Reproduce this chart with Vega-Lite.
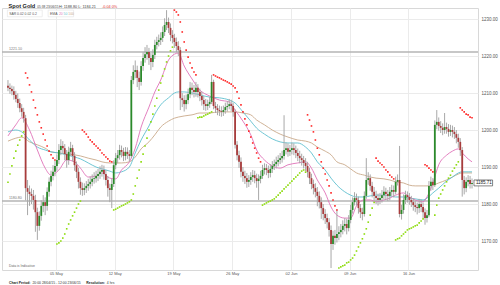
{
"$schema":"https://vega.github.io/schema/vega-lite/v6.json",
"width":476,"height":262,
"autosize":{"type":"none"},
"padding":{"left":2,"top":8,"right":22,"bottom":15},
"background":"white",
"config":{"view":{"stroke":"#d8d8d8"},"font":"Liberation Sans"},
"datasets":{
"k":[
{"i":0,"o":1212.0,"h":1213.5,"l":1210.5,"c":1211.4},
{"i":1,"o":1211.4,"h":1212.6,"l":1209.8,"c":1211.1},
{"i":2,"o":1211.1,"h":1212.0,"l":1209.4,"c":1210.5},
{"i":3,"o":1210.5,"h":1211.8,"l":1208.2,"c":1209.5},
{"i":4,"o":1209.5,"h":1210.6,"l":1207.5,"c":1208.4},
{"i":5,"o":1208.4,"h":1209.9,"l":1206.0,"c":1207.3},
{"i":6,"o":1207.3,"h":1208.5,"l":1204.8,"c":1205.9},
{"i":7,"o":1205.9,"h":1207.0,"l":1203.6,"c":1204.9},
{"i":8,"o":1204.9,"h":1206.0,"l":1202.0,"c":1203.2},
{"i":9,"o":1203.2,"h":1204.1,"l":1181.0,"c":1184.3},
{"i":10,"o":1184.3,"h":1186.5,"l":1177.0,"c":1183.3},
{"i":11,"o":1183.3,"h":1185.0,"l":1179.5,"c":1182.7},
{"i":12,"o":1182.7,"h":1184.2,"l":1180.0,"c":1182.2},
{"i":13,"o":1182.2,"h":1183.8,"l":1178.5,"c":1181.1},
{"i":14,"o":1181.1,"h":1182.5,"l":1172.5,"c":1177.8},
{"i":15,"o":1177.8,"h":1179.0,"l":1170.3,"c":1174.1},
{"i":16,"o":1174.1,"h":1178.0,"l":1172.8,"c":1176.8},
{"i":17,"o":1176.8,"h":1181.0,"l":1175.5,"c":1179.5},
{"i":18,"o":1179.5,"h":1182.4,"l":1177.8,"c":1180.5},
{"i":19,"o":1180.5,"h":1181.8,"l":1177.0,"c":1179.5},
{"i":20,"o":1179.5,"h":1184.5,"l":1178.2,"c":1183.3},
{"i":21,"o":1183.3,"h":1187.2,"l":1182.0,"c":1186.0},
{"i":22,"o":1186.0,"h":1189.0,"l":1184.8,"c":1187.6},
{"i":23,"o":1187.6,"h":1190.5,"l":1186.4,"c":1188.7},
{"i":24,"o":1188.7,"h":1191.8,"l":1187.5,"c":1190.3},
{"i":25,"o":1190.3,"h":1193.4,"l":1189.0,"c":1191.9},
{"i":26,"o":1191.9,"h":1196.2,"l":1190.8,"c":1194.6},
{"i":27,"o":1194.6,"h":1197.5,"l":1193.2,"c":1195.7},
{"i":28,"o":1195.7,"h":1197.0,"l":1193.6,"c":1195.1},
{"i":29,"o":1195.1,"h":1196.2,"l":1191.8,"c":1193.5},
{"i":30,"o":1193.5,"h":1194.6,"l":1189.8,"c":1191.9},
{"i":31,"o":1191.9,"h":1195.5,"l":1190.6,"c":1194.1},
{"i":32,"o":1194.1,"h":1196.8,"l":1193.0,"c":1195.1},
{"i":33,"o":1195.1,"h":1196.0,"l":1191.5,"c":1193.0},
{"i":34,"o":1193.0,"h":1194.0,"l":1189.0,"c":1190.5},
{"i":35,"o":1190.5,"h":1191.5,"l":1187.0,"c":1188.7},
{"i":36,"o":1188.7,"h":1189.8,"l":1184.2,"c":1186.0},
{"i":37,"o":1186.0,"h":1187.2,"l":1182.5,"c":1184.3},
{"i":38,"o":1184.3,"h":1185.8,"l":1182.2,"c":1183.8},
{"i":39,"o":1183.8,"h":1185.6,"l":1182.4,"c":1184.3},
{"i":40,"o":1184.3,"h":1186.2,"l":1183.0,"c":1184.9},
{"i":41,"o":1184.9,"h":1186.8,"l":1183.6,"c":1185.4},
{"i":42,"o":1185.4,"h":1187.4,"l":1184.2,"c":1186.0},
{"i":43,"o":1186.0,"h":1188.0,"l":1184.8,"c":1186.8},
{"i":44,"o":1186.8,"h":1188.6,"l":1185.5,"c":1187.0},
{"i":45,"o":1187.0,"h":1189.0,"l":1185.8,"c":1187.6},
{"i":46,"o":1187.6,"h":1189.5,"l":1186.2,"c":1188.1},
{"i":47,"o":1188.1,"h":1190.2,"l":1186.8,"c":1188.7},
{"i":48,"o":1188.7,"h":1190.6,"l":1187.4,"c":1189.2},
{"i":49,"o":1189.2,"h":1190.4,"l":1186.6,"c":1188.1},
{"i":50,"o":1188.1,"h":1189.2,"l":1185.0,"c":1186.5},
{"i":51,"o":1186.5,"h":1187.6,"l":1182.0,"c":1184.3},
{"i":52,"o":1184.3,"h":1185.5,"l":1180.5,"c":1183.8},
{"i":53,"o":1183.8,"h":1186.8,"l":1178.9,"c":1185.4},
{"i":54,"o":1185.4,"h":1191.8,"l":1184.6,"c":1190.5},
{"i":55,"o":1190.5,"h":1193.8,"l":1189.4,"c":1192.4},
{"i":56,"o":1192.4,"h":1194.6,"l":1191.0,"c":1193.2},
{"i":57,"o":1193.2,"h":1196.0,"l":1192.0,"c":1194.6},
{"i":58,"o":1194.6,"h":1195.8,"l":1192.6,"c":1194.1},
{"i":59,"o":1194.1,"h":1195.2,"l":1191.6,"c":1193.0},
{"i":60,"o":1193.0,"h":1195.4,"l":1191.8,"c":1194.1},
{"i":61,"o":1194.1,"h":1195.3,"l":1192.2,"c":1193.5},
{"i":62,"o":1193.5,"h":1194.6,"l":1191.5,"c":1193.0},
{"i":63,"o":1193.0,"h":1214.6,"l":1192.4,"c":1213.5},
{"i":64,"o":1213.5,"h":1217.5,"l":1212.4,"c":1215.7},
{"i":65,"o":1215.7,"h":1218.8,"l":1214.0,"c":1216.2},
{"i":66,"o":1216.2,"h":1217.4,"l":1211.6,"c":1214.1},
{"i":67,"o":1214.1,"h":1215.8,"l":1210.8,"c":1213.0},
{"i":68,"o":1213.0,"h":1218.6,"l":1212.0,"c":1217.3},
{"i":69,"o":1217.3,"h":1221.0,"l":1216.0,"c":1219.5},
{"i":70,"o":1219.5,"h":1222.4,"l":1218.2,"c":1220.5},
{"i":71,"o":1220.5,"h":1223.0,"l":1219.0,"c":1221.1},
{"i":72,"o":1221.1,"h":1222.2,"l":1217.6,"c":1219.5},
{"i":73,"o":1219.5,"h":1220.8,"l":1216.2,"c":1218.4},
{"i":74,"o":1218.4,"h":1221.8,"l":1217.0,"c":1220.3},
{"i":75,"o":1220.3,"h":1224.4,"l":1219.2,"c":1223.0},
{"i":76,"o":1223.0,"h":1225.2,"l":1221.8,"c":1223.8},
{"i":77,"o":1223.8,"h":1225.8,"l":1222.6,"c":1224.3},
{"i":78,"o":1224.3,"h":1226.4,"l":1223.0,"c":1224.9},
{"i":79,"o":1224.9,"h":1228.0,"l":1223.8,"c":1226.5},
{"i":80,"o":1226.5,"h":1230.2,"l":1225.4,"c":1228.4},
{"i":81,"o":1228.4,"h":1232.4,"l":1227.0,"c":1229.2},
{"i":82,"o":1229.2,"h":1230.4,"l":1226.2,"c":1227.6},
{"i":83,"o":1227.6,"h":1228.8,"l":1224.0,"c":1225.7},
{"i":84,"o":1225.7,"h":1227.0,"l":1223.4,"c":1224.9},
{"i":85,"o":1224.9,"h":1226.0,"l":1222.2,"c":1223.8},
{"i":86,"o":1223.8,"h":1225.0,"l":1221.0,"c":1222.7},
{"i":87,"o":1222.7,"h":1224.0,"l":1220.0,"c":1221.6},
{"i":88,"o":1221.6,"h":1222.4,"l":1205.4,"c":1208.6},
{"i":89,"o":1208.6,"h":1210.0,"l":1206.2,"c":1208.1},
{"i":90,"o":1208.1,"h":1209.4,"l":1205.0,"c":1207.0},
{"i":91,"o":1207.0,"h":1209.6,"l":1205.6,"c":1208.1},
{"i":92,"o":1208.1,"h":1211.2,"l":1207.0,"c":1209.7},
{"i":93,"o":1209.7,"h":1213.0,"l":1208.6,"c":1211.4},
{"i":94,"o":1211.4,"h":1212.8,"l":1209.4,"c":1210.8},
{"i":95,"o":1210.8,"h":1212.2,"l":1208.8,"c":1210.3},
{"i":96,"o":1210.3,"h":1213.0,"l":1209.0,"c":1211.4},
{"i":97,"o":1211.4,"h":1212.4,"l":1208.8,"c":1210.3},
{"i":98,"o":1210.3,"h":1211.2,"l":1207.8,"c":1209.2},
{"i":99,"o":1209.2,"h":1210.4,"l":1206.6,"c":1208.1},
{"i":100,"o":1208.1,"h":1209.2,"l":1205.4,"c":1207.0},
{"i":101,"o":1207.0,"h":1208.4,"l":1205.2,"c":1206.5},
{"i":102,"o":1206.5,"h":1208.2,"l":1205.4,"c":1207.0},
{"i":103,"o":1207.0,"h":1209.0,"l":1206.0,"c":1207.6},
{"i":104,"o":1207.6,"h":1214.9,"l":1207.0,"c":1213.0},
{"i":105,"o":1213.0,"h":1213.6,"l":1205.6,"c":1206.5},
{"i":106,"o":1206.5,"h":1207.6,"l":1204.6,"c":1205.9},
{"i":107,"o":1205.9,"h":1207.0,"l":1204.0,"c":1205.4},
{"i":108,"o":1205.4,"h":1206.6,"l":1203.8,"c":1205.1},
{"i":109,"o":1205.1,"h":1206.4,"l":1203.6,"c":1204.9},
{"i":110,"o":1204.9,"h":1206.6,"l":1203.8,"c":1205.4},
{"i":111,"o":1205.4,"h":1207.4,"l":1204.4,"c":1206.2},
{"i":112,"o":1206.2,"h":1207.8,"l":1205.0,"c":1206.5},
{"i":113,"o":1206.5,"h":1208.4,"l":1205.6,"c":1207.0},
{"i":114,"o":1207.0,"h":1208.2,"l":1205.2,"c":1206.5},
{"i":115,"o":1206.5,"h":1207.4,"l":1203.6,"c":1204.9},
{"i":116,"o":1204.9,"h":1205.6,"l":1195.0,"c":1196.0},
{"i":117,"o":1196.0,"h":1197.0,"l":1191.8,"c":1193.2},
{"i":118,"o":1193.2,"h":1194.4,"l":1189.8,"c":1191.4},
{"i":119,"o":1191.4,"h":1192.6,"l":1187.2,"c":1188.7},
{"i":120,"o":1188.7,"h":1190.0,"l":1186.0,"c":1187.6},
{"i":121,"o":1187.6,"h":1189.0,"l":1185.4,"c":1187.0},
{"i":122,"o":1187.0,"h":1188.4,"l":1184.4,"c":1186.0},
{"i":123,"o":1186.0,"h":1187.8,"l":1184.6,"c":1186.5},
{"i":124,"o":1186.5,"h":1188.6,"l":1185.2,"c":1187.3},
{"i":125,"o":1187.3,"h":1189.2,"l":1186.0,"c":1187.8},
{"i":126,"o":1187.8,"h":1189.0,"l":1185.6,"c":1187.0},
{"i":127,"o":1187.0,"h":1188.2,"l":1184.4,"c":1186.2},
{"i":128,"o":1186.2,"h":1188.0,"l":1181.1,"c":1186.8},
{"i":129,"o":1186.8,"h":1189.0,"l":1185.6,"c":1187.6},
{"i":130,"o":1187.6,"h":1190.6,"l":1186.8,"c":1189.2},
{"i":131,"o":1189.2,"h":1191.0,"l":1188.0,"c":1189.7},
{"i":132,"o":1189.7,"h":1190.8,"l":1187.8,"c":1189.2},
{"i":133,"o":1189.2,"h":1190.4,"l":1187.0,"c":1188.4},
{"i":134,"o":1188.4,"h":1190.8,"l":1187.2,"c":1189.5},
{"i":135,"o":1189.5,"h":1191.6,"l":1188.4,"c":1190.3},
{"i":136,"o":1190.3,"h":1192.0,"l":1189.2,"c":1190.8},
{"i":137,"o":1190.8,"h":1192.8,"l":1189.6,"c":1191.4},
{"i":138,"o":1191.4,"h":1193.2,"l":1190.2,"c":1191.9},
{"i":139,"o":1191.9,"h":1193.8,"l":1190.8,"c":1192.4},
{"i":140,"o":1192.4,"h":1194.4,"l":1191.2,"c":1193.0},
{"i":141,"o":1193.0,"h":1204.0,"l":1192.0,"c":1194.6},
{"i":142,"o":1194.6,"h":1196.6,"l":1193.4,"c":1195.1},
{"i":143,"o":1195.1,"h":1196.4,"l":1192.8,"c":1194.1},
{"i":144,"o":1194.1,"h":1196.0,"l":1193.0,"c":1194.6},
{"i":145,"o":1194.6,"h":1196.6,"l":1193.4,"c":1195.1},
{"i":146,"o":1195.1,"h":1196.4,"l":1193.2,"c":1194.6},
{"i":147,"o":1194.6,"h":1195.8,"l":1192.4,"c":1193.8},
{"i":148,"o":1193.8,"h":1195.0,"l":1191.6,"c":1193.0},
{"i":149,"o":1193.0,"h":1194.4,"l":1191.0,"c":1192.4},
{"i":150,"o":1192.4,"h":1193.6,"l":1190.4,"c":1191.9},
{"i":151,"o":1191.9,"h":1193.0,"l":1189.6,"c":1191.1},
{"i":152,"o":1191.1,"h":1192.4,"l":1188.8,"c":1190.3},
{"i":153,"o":1190.3,"h":1191.4,"l":1187.2,"c":1188.7},
{"i":154,"o":1188.7,"h":1189.8,"l":1185.4,"c":1187.0},
{"i":155,"o":1187.0,"h":1188.2,"l":1184.0,"c":1185.4},
{"i":156,"o":1185.4,"h":1186.6,"l":1182.6,"c":1184.3},
{"i":157,"o":1184.3,"h":1185.6,"l":1181.8,"c":1183.3},
{"i":158,"o":1183.3,"h":1184.6,"l":1179.4,"c":1182.2},
{"i":159,"o":1182.2,"h":1183.4,"l":1178.8,"c":1180.5},
{"i":160,"o":1180.5,"h":1181.8,"l":1176.0,"c":1178.9},
{"i":161,"o":1178.9,"h":1180.0,"l":1175.6,"c":1177.3},
{"i":162,"o":1177.3,"h":1178.6,"l":1174.6,"c":1176.2},
{"i":163,"o":1176.2,"h":1177.4,"l":1173.4,"c":1175.1},
{"i":164,"o":1175.1,"h":1176.2,"l":1171.2,"c":1173.0},
{"i":165,"o":1173.0,"h":1174.2,"l":1162.7,"c":1169.2},
{"i":166,"o":1169.2,"h":1172.8,"l":1167.6,"c":1171.4},
{"i":167,"o":1171.4,"h":1173.0,"l":1169.0,"c":1170.8},
{"i":168,"o":1170.8,"h":1178.6,"l":1169.6,"c":1171.9},
{"i":169,"o":1171.9,"h":1174.0,"l":1170.2,"c":1172.4},
{"i":170,"o":1172.4,"h":1174.6,"l":1171.0,"c":1173.0},
{"i":171,"o":1173.0,"h":1175.6,"l":1171.8,"c":1174.1},
{"i":172,"o":1174.1,"h":1176.2,"l":1172.6,"c":1174.6},
{"i":173,"o":1174.6,"h":1176.0,"l":1171.8,"c":1173.5},
{"i":174,"o":1173.5,"h":1177.0,"l":1172.6,"c":1175.7},
{"i":175,"o":1175.7,"h":1179.8,"l":1174.8,"c":1178.4},
{"i":176,"o":1178.4,"h":1181.8,"l":1177.4,"c":1180.5},
{"i":177,"o":1180.5,"h":1183.2,"l":1179.6,"c":1181.6},
{"i":178,"o":1181.6,"h":1182.8,"l":1179.6,"c":1181.1},
{"i":179,"o":1181.1,"h":1182.0,"l":1177.4,"c":1178.9},
{"i":180,"o":1178.9,"h":1180.0,"l":1176.2,"c":1177.8},
{"i":181,"o":1177.8,"h":1179.0,"l":1175.6,"c":1177.3},
{"i":182,"o":1177.3,"h":1183.4,"l":1176.6,"c":1182.2},
{"i":183,"o":1182.2,"h":1192.4,"l":1181.4,"c":1186.5},
{"i":184,"o":1186.5,"h":1188.6,"l":1185.2,"c":1187.0},
{"i":185,"o":1187.0,"h":1188.0,"l":1183.6,"c":1184.9},
{"i":186,"o":1184.9,"h":1186.0,"l":1181.8,"c":1183.3},
{"i":187,"o":1183.3,"h":1184.6,"l":1180.6,"c":1182.2},
{"i":188,"o":1182.2,"h":1183.6,"l":1180.0,"c":1181.6},
{"i":189,"o":1181.6,"h":1182.8,"l":1179.6,"c":1181.1},
{"i":190,"o":1181.1,"h":1183.0,"l":1180.0,"c":1181.6},
{"i":191,"o":1181.6,"h":1183.8,"l":1180.4,"c":1182.4},
{"i":192,"o":1182.4,"h":1184.8,"l":1181.2,"c":1183.3},
{"i":193,"o":1183.3,"h":1184.4,"l":1181.2,"c":1182.7},
{"i":194,"o":1182.7,"h":1183.8,"l":1180.8,"c":1182.2},
{"i":195,"o":1182.2,"h":1184.6,"l":1181.0,"c":1183.3},
{"i":196,"o":1183.3,"h":1185.2,"l":1182.2,"c":1183.8},
{"i":197,"o":1183.8,"h":1185.0,"l":1181.8,"c":1183.3},
{"i":198,"o":1183.3,"h":1187.4,"l":1182.6,"c":1186.0},
{"i":199,"o":1186.0,"h":1188.0,"l":1185.0,"c":1186.5},
{"i":200,"o":1186.5,"h":1195.7,"l":1176.4,"c":1177.3},
{"i":201,"o":1177.3,"h":1179.8,"l":1175.8,"c":1178.4},
{"i":202,"o":1178.4,"h":1182.6,"l":1177.4,"c":1181.1},
{"i":203,"o":1181.1,"h":1183.6,"l":1180.0,"c":1182.4},
{"i":204,"o":1182.4,"h":1183.4,"l":1180.4,"c":1181.9},
{"i":205,"o":1181.9,"h":1183.0,"l":1179.8,"c":1181.1},
{"i":206,"o":1181.1,"h":1182.2,"l":1179.2,"c":1180.5},
{"i":207,"o":1180.5,"h":1181.6,"l":1178.2,"c":1179.7},
{"i":208,"o":1179.7,"h":1181.0,"l":1177.8,"c":1179.2},
{"i":209,"o":1179.2,"h":1180.4,"l":1177.2,"c":1178.9},
{"i":210,"o":1178.9,"h":1181.4,"l":1177.6,"c":1180.0},
{"i":211,"o":1180.0,"h":1181.2,"l":1177.8,"c":1179.2},
{"i":212,"o":1179.2,"h":1180.4,"l":1176.2,"c":1177.8},
{"i":213,"o":1177.8,"h":1178.8,"l":1174.4,"c":1176.2},
{"i":214,"o":1176.2,"h":1178.4,"l":1175.0,"c":1177.0},
{"i":215,"o":1177.0,"h":1186.2,"l":1176.4,"c":1184.9},
{"i":216,"o":1184.9,"h":1187.4,"l":1183.6,"c":1186.0},
{"i":217,"o":1186.0,"h":1187.0,"l":1183.8,"c":1185.1},
{"i":218,"o":1185.1,"h":1202.6,"l":1184.6,"c":1201.4},
{"i":219,"o":1201.4,"h":1205.4,"l":1200.2,"c":1202.2},
{"i":220,"o":1202.2,"h":1203.4,"l":1199.8,"c":1201.1},
{"i":221,"o":1201.1,"h":1202.4,"l":1199.2,"c":1200.6},
{"i":222,"o":1200.6,"h":1201.8,"l":1198.6,"c":1200.0},
{"i":223,"o":1200.0,"h":1204.6,"l":1199.0,"c":1200.8},
{"i":224,"o":1200.8,"h":1202.0,"l":1199.0,"c":1200.3},
{"i":225,"o":1200.3,"h":1201.6,"l":1198.2,"c":1199.5},
{"i":226,"o":1199.5,"h":1201.4,"l":1198.4,"c":1200.0},
{"i":227,"o":1200.0,"h":1201.2,"l":1198.0,"c":1199.5},
{"i":228,"o":1199.5,"h":1200.8,"l":1197.6,"c":1198.9},
{"i":229,"o":1198.9,"h":1200.0,"l":1196.4,"c":1197.9},
{"i":230,"o":1197.9,"h":1199.0,"l":1195.2,"c":1196.8},
{"i":231,"o":1196.8,"h":1197.8,"l":1193.0,"c":1194.6},
{"i":232,"o":1194.6,"h":1195.4,"l":1182.0,"c":1186.5},
{"i":233,"o":1186.5,"h":1187.6,"l":1182.6,"c":1184.3},
{"i":234,"o":1184.3,"h":1187.2,"l":1183.2,"c":1186.0},
{"i":235,"o":1186.0,"h":1187.8,"l":1184.8,"c":1186.5},
{"i":236,"o":1186.5,"h":1187.6,"l":1184.2,"c":1185.4},
{"i":237,"o":1185.4,"h":1186.9,"l":1184.2,"c":1185.7}
],
"s":[
{"i":0,"v":1185.9,"s":"b"},{"i":1,"v":1188.1,"s":"b"},{"i":2,"v":1190.3,"s":"b"},{"i":3,"v":1192.4,"s":"b"},{"i":4,"v":1194.3,"s":"b"},{"i":5,"v":1195.9,"s":"b"},{"i":6,"v":1197.3,"s":"b"},{"i":7,"v":1198.4,"s":"b"},{"i":8,"v":1199.5,"s":"b"},
{"i":9,"v":1215.4,"s":"a"},{"i":10,"v":1214.1,"s":"a"},{"i":11,"v":1212.2,"s":"a"},{"i":12,"v":1210.3,"s":"a"},{"i":13,"v":1208.1,"s":"a"},{"i":14,"v":1206.0,"s":"a"},{"i":15,"v":1204.1,"s":"a"},{"i":16,"v":1202.2,"s":"a"},{"i":17,"v":1200.6,"s":"a"},{"i":18,"v":1198.9,"s":"a"},{"i":19,"v":1197.3,"s":"a"},{"i":20,"v":1195.7,"s":"a"},{"i":21,"v":1194.3,"s":"a"},{"i":22,"v":1193.3,"s":"a"},{"i":23,"v":1192.4,"s":"a"},{"i":24,"v":1191.9,"s":"a"},
{"i":25,"v":1169.2,"s":"b"},{"i":26,"v":1169.5,"s":"b"},{"i":27,"v":1170.0,"s":"b"},{"i":28,"v":1170.8,"s":"b"},{"i":29,"v":1171.9,"s":"b"},{"i":30,"v":1173.3,"s":"b"},{"i":31,"v":1174.6,"s":"b"},{"i":32,"v":1175.7,"s":"b"},{"i":33,"v":1176.8,"s":"b"},{"i":34,"v":1177.8,"s":"b"},{"i":35,"v":1178.9,"s":"b"},{"i":36,"v":1180.0,"s":"b"},{"i":37,"v":1180.8,"s":"b"},
{"i":38,"v":1200.0,"s":"a"},{"i":39,"v":1199.5,"s":"a"},{"i":40,"v":1198.9,"s":"a"},{"i":41,"v":1198.1,"s":"a"},{"i":42,"v":1197.3,"s":"a"},{"i":43,"v":1196.8,"s":"a"},{"i":44,"v":1196.2,"s":"a"},{"i":45,"v":1195.7,"s":"a"},{"i":46,"v":1195.1,"s":"a"},{"i":47,"v":1194.6,"s":"a"},{"i":48,"v":1193.8,"s":"a"},{"i":49,"v":1193.3,"s":"a"},{"i":50,"v":1192.7,"s":"a"},{"i":51,"v":1192.2,"s":"a"},{"i":52,"v":1191.6,"s":"a"},{"i":53,"v":1191.4,"s":"a"},
{"i":54,"v":1178.4,"s":"b"},{"i":55,"v":1178.6,"s":"b"},{"i":56,"v":1178.9,"s":"b"},{"i":57,"v":1179.2,"s":"b"},{"i":58,"v":1179.5,"s":"b"},{"i":59,"v":1179.7,"s":"b"},{"i":60,"v":1180.0,"s":"b"},{"i":61,"v":1180.3,"s":"b"},{"i":62,"v":1180.6,"s":"b"},{"i":63,"v":1181.1,"s":"b"},{"i":64,"v":1182.7,"s":"b"},{"i":65,"v":1184.9,"s":"b"},{"i":66,"v":1187.0,"s":"b"},{"i":67,"v":1189.2,"s":"b"},{"i":68,"v":1191.4,"s":"b"},{"i":69,"v":1193.5,"s":"b"},{"i":70,"v":1195.7,"s":"b"},{"i":71,"v":1197.8,"s":"b"},{"i":72,"v":1200.0,"s":"b"},{"i":73,"v":1202.2,"s":"b"},{"i":74,"v":1204.3,"s":"b"},{"i":75,"v":1206.5,"s":"b"},{"i":76,"v":1208.6,"s":"b"},{"i":77,"v":1210.8,"s":"b"},{"i":78,"v":1212.7,"s":"b"},{"i":79,"v":1214.6,"s":"b"},{"i":80,"v":1216.5,"s":"b"},{"i":81,"v":1218.4,"s":"b"},{"i":82,"v":1220.0,"s":"b"},{"i":83,"v":1221.4,"s":"b"},{"i":84,"v":1222.4,"s":"b"},
{"i":85,"v":1232.4,"s":"a"},{"i":86,"v":1231.9,"s":"a"},{"i":87,"v":1231.1,"s":"a"},{"i":88,"v":1229.2,"s":"a"},{"i":89,"v":1226.5,"s":"a"},{"i":90,"v":1223.8,"s":"a"},{"i":91,"v":1221.6,"s":"a"},{"i":92,"v":1219.7,"s":"a"},{"i":93,"v":1218.1,"s":"a"},{"i":94,"v":1216.8,"s":"a"},{"i":95,"v":1215.7,"s":"a"},{"i":96,"v":1214.9,"s":"a"},
{"i":97,"v":1203.3,"s":"b"},{"i":98,"v":1203.5,"s":"b"},{"i":99,"v":1203.5,"s":"b"},{"i":100,"v":1203.8,"s":"b"},{"i":101,"v":1204.1,"s":"b"},{"i":102,"v":1204.3,"s":"b"},{"i":103,"v":1204.6,"s":"b"},{"i":104,"v":1204.9,"s":"b"},
{"i":105,"v":1214.9,"s":"a"},{"i":106,"v":1214.6,"s":"a"},{"i":107,"v":1214.3,"s":"a"},{"i":108,"v":1214.1,"s":"a"},{"i":109,"v":1213.8,"s":"a"},{"i":110,"v":1213.5,"s":"a"},{"i":111,"v":1213.3,"s":"a"},{"i":112,"v":1213.0,"s":"a"},{"i":113,"v":1212.7,"s":"a"},{"i":114,"v":1212.4,"s":"a"},{"i":115,"v":1211.9,"s":"a"},{"i":116,"v":1211.4,"s":"a"},{"i":117,"v":1210.3,"s":"a"},{"i":118,"v":1208.6,"s":"a"},{"i":119,"v":1206.8,"s":"a"},{"i":120,"v":1204.9,"s":"a"},{"i":121,"v":1203.0,"s":"a"},{"i":122,"v":1201.4,"s":"a"},{"i":123,"v":1199.7,"s":"a"},{"i":124,"v":1198.1,"s":"a"},{"i":125,"v":1196.5,"s":"a"},{"i":126,"v":1195.1,"s":"a"},{"i":127,"v":1193.8,"s":"a"},{"i":128,"v":1192.4,"s":"a"},{"i":129,"v":1191.4,"s":"a"},
{"i":130,"v":1179.7,"s":"b"},{"i":131,"v":1180.0,"s":"b"},{"i":132,"v":1180.3,"s":"b"},{"i":133,"v":1180.6,"s":"b"},{"i":134,"v":1180.8,"s":"b"},{"i":135,"v":1181.1,"s":"b"},{"i":136,"v":1181.4,"s":"b"},{"i":137,"v":1181.9,"s":"b"},{"i":138,"v":1182.4,"s":"b"},{"i":139,"v":1183.0,"s":"b"},{"i":140,"v":1183.5,"s":"b"},{"i":141,"v":1184.1,"s":"b"},{"i":142,"v":1184.6,"s":"b"},{"i":143,"v":1185.1,"s":"b"},{"i":144,"v":1185.7,"s":"b"},{"i":145,"v":1186.2,"s":"b"},{"i":146,"v":1186.8,"s":"b"},{"i":147,"v":1187.3,"s":"b"},{"i":148,"v":1187.8,"s":"b"},{"i":149,"v":1188.4,"s":"b"},{"i":150,"v":1188.9,"s":"b"},{"i":151,"v":1189.2,"s":"b"},{"i":152,"v":1188.6,"s":"b"},
{"i":153,"v":1204.1,"s":"a"},{"i":154,"v":1202.7,"s":"a"},{"i":155,"v":1201.1,"s":"a"},{"i":156,"v":1199.5,"s":"a"},{"i":157,"v":1197.3,"s":"a"},{"i":158,"v":1195.1,"s":"a"},{"i":159,"v":1193.3,"s":"a"},{"i":160,"v":1191.4,"s":"a"},{"i":161,"v":1189.7,"s":"a"},{"i":162,"v":1188.1,"s":"a"},{"i":163,"v":1186.5,"s":"a"},{"i":164,"v":1184.9,"s":"a"},{"i":165,"v":1183.0,"s":"a"},{"i":166,"v":1181.1,"s":"a"},{"i":167,"v":1179.5,"s":"a"},{"i":168,"v":1178.4,"s":"a"},
{"i":169,"v":1162.7,"s":"b"},{"i":170,"v":1163.0,"s":"b"},{"i":171,"v":1163.3,"s":"b"},{"i":172,"v":1163.5,"s":"b"},{"i":173,"v":1164.1,"s":"b"},{"i":174,"v":1164.3,"s":"b"},{"i":175,"v":1164.9,"s":"b"},{"i":176,"v":1165.4,"s":"b"},{"i":177,"v":1166.2,"s":"b"},{"i":178,"v":1167.3,"s":"b"},{"i":179,"v":1168.4,"s":"b"},{"i":180,"v":1169.5,"s":"b"},{"i":181,"v":1170.6,"s":"b"},{"i":182,"v":1171.9,"s":"b"},{"i":183,"v":1173.3,"s":"b"},{"i":184,"v":1175.1,"s":"b"},{"i":185,"v":1177.0,"s":"b"},{"i":186,"v":1178.9,"s":"b"},{"i":187,"v":1180.4,"s":"b"},
{"i":188,"v":1192.4,"s":"a"},{"i":189,"v":1191.6,"s":"a"},{"i":190,"v":1191.1,"s":"a"},{"i":191,"v":1190.6,"s":"a"},{"i":192,"v":1190.0,"s":"a"},{"i":193,"v":1189.2,"s":"a"},{"i":194,"v":1188.7,"s":"a"},{"i":195,"v":1187.8,"s":"a"},{"i":196,"v":1187.3,"s":"a"},{"i":197,"v":1186.8,"s":"a"},
{"i":198,"v":1170.3,"s":"b"},{"i":199,"v":1170.6,"s":"b"},{"i":200,"v":1170.8,"s":"b"},{"i":201,"v":1171.4,"s":"b"},{"i":202,"v":1171.9,"s":"b"},{"i":203,"v":1172.4,"s":"b"},{"i":204,"v":1173.0,"s":"b"},{"i":205,"v":1173.3,"s":"b"},{"i":206,"v":1173.5,"s":"b"},{"i":207,"v":1173.8,"s":"b"},{"i":208,"v":1174.1,"s":"b"},{"i":209,"v":1174.3,"s":"b"},{"i":210,"v":1174.9,"s":"b"},{"i":211,"v":1175.4,"s":"b"},{"i":212,"v":1176.0,"s":"b"},
{"i":213,"v":1190.6,"s":"a"},{"i":214,"v":1190.3,"s":"a"},{"i":215,"v":1189.7,"s":"a"},{"i":216,"v":1189.2,"s":"a"},{"i":217,"v":1188.7,"s":"a"},
{"i":218,"v":1177.0,"s":"b"},{"i":219,"v":1179.7,"s":"b"},{"i":220,"v":1181.6,"s":"b"},{"i":221,"v":1182.7,"s":"b"},{"i":222,"v":1183.8,"s":"b"},{"i":223,"v":1184.9,"s":"b"},{"i":224,"v":1186.0,"s":"b"},{"i":225,"v":1187.0,"s":"b"},{"i":226,"v":1187.8,"s":"b"},{"i":227,"v":1188.9,"s":"b"},{"i":228,"v":1189.7,"s":"b"},{"i":229,"v":1190.6,"s":"b"},{"i":230,"v":1191.4,"s":"b"},
{"i":231,"v":1206.0,"s":"a"},{"i":232,"v":1205.4,"s":"a"},{"i":233,"v":1204.9,"s":"a"},{"i":234,"v":1204.3,"s":"a"},{"i":235,"v":1204.1,"s":"a"},{"i":236,"v":1203.5,"s":"a"},{"i":237,"v":1203.3,"s":"a"}
],
"e":[
{"i":0,"e20":1198.4,"e50":1199.5,"e100":1197.0},
{"i":4,"e20":1201.4,"e50":1200.0,"e100":1197.8},
{"i":7,"e20":1203.3,"e50":1199.5,"e100":1198.1},
{"i":11,"e20":1200.0,"e50":1197.3,"e100":1196.8},
{"i":15,"e20":1194.6,"e50":1195.4,"e100":1196.0},
{"i":19,"e20":1189.7,"e50":1194.6,"e100":1195.1},
{"i":22,"e20":1187.8,"e50":1194.1,"e100":1194.1},
{"i":26,"e20":1189.2,"e50":1193.8,"e100":1193.8},
{"i":30,"e20":1191.9,"e50":1193.3,"e100":1193.5},
{"i":34,"e20":1191.4,"e50":1192.7,"e100":1193.3},
{"i":37,"e20":1189.7,"e50":1192.2,"e100":1193.0},
{"i":41,"e20":1187.3,"e50":1191.1,"e100":1192.4},
{"i":45,"e20":1187.6,"e50":1190.0,"e100":1191.9},
{"i":48,"e20":1188.4,"e50":1189.5,"e100":1191.4},
{"i":52,"e20":1187.0,"e50":1188.9,"e100":1191.1},
{"i":55,"e20":1186.8,"e50":1188.4,"e100":1191.1},
{"i":58,"e20":1189.2,"e50":1188.7,"e100":1191.1},
{"i":62,"e20":1191.4,"e50":1190.0,"e100":1191.4},
{"i":65,"e20":1195.1,"e50":1193.8,"e100":1192.7},
{"i":68,"e20":1200.8,"e50":1197.3,"e100":1194.9},
{"i":72,"e20":1206.2,"e50":1201.1,"e100":1196.8},
{"i":75,"e20":1210.3,"e50":1204.3,"e100":1198.7},
{"i":78,"e20":1213.5,"e50":1206.8,"e100":1200.8},
{"i":82,"e20":1218.9,"e50":1208.7,"e100":1202.4},
{"i":85,"e20":1220.5,"e50":1210.0,"e100":1203.2},
{"i":87,"e20":1220.8,"e50":1210.3,"e100":1203.5},
{"i":90,"e20":1217.3,"e50":1210.3,"e100":1203.8},
{"i":94,"e20":1213.8,"e50":1210.0,"e100":1204.1},
{"i":98,"e20":1210.8,"e50":1209.5,"e100":1204.6},
{"i":103,"e20":1209.2,"e50":1208.9,"e100":1204.6},
{"i":108,"e20":1208.1,"e50":1208.7,"e100":1204.9},
{"i":113,"e20":1207.6,"e50":1208.1,"e100":1204.9},
{"i":116,"e20":1205.4,"e50":1207.3,"e100":1204.9},
{"i":120,"e20":1202.4,"e50":1204.9,"e100":1204.6},
{"i":124,"e20":1198.7,"e50":1202.4,"e100":1204.1},
{"i":127,"e20":1194.6,"e50":1200.5,"e100":1202.7},
{"i":131,"e20":1191.9,"e50":1198.9,"e100":1201.4},
{"i":135,"e20":1190.3,"e50":1197.6,"e100":1200.0},
{"i":139,"e20":1189.7,"e50":1196.8,"e100":1198.9},
{"i":143,"e20":1190.6,"e50":1196.5,"e100":1198.1},
{"i":148,"e20":1191.1,"e50":1196.5,"e100":1197.3},
{"i":152,"e20":1191.4,"e50":1195.4,"e100":1197.0},
{"i":155,"e20":1189.7,"e50":1193.8,"e100":1196.5},
{"i":158,"e20":1186.5,"e50":1191.4,"e100":1195.4},
{"i":162,"e20":1183.0,"e50":1189.2,"e100":1194.3},
{"i":165,"e20":1179.2,"e50":1187.0,"e100":1193.3},
{"i":168,"e20":1177.0,"e50":1185.1,"e100":1191.4},
{"i":172,"e20":1176.2,"e50":1183.3,"e100":1190.6},
{"i":175,"e20":1176.2,"e50":1182.4,"e100":1189.5},
{"i":178,"e20":1179.5,"e50":1181.9,"e100":1188.4},
{"i":182,"e20":1181.1,"e50":1181.9,"e100":1187.8},
{"i":185,"e20":1181.1,"e50":1182.2,"e100":1187.3},
{"i":188,"e20":1180.6,"e50":1182.4,"e100":1187.0},
{"i":192,"e20":1181.1,"e50":1182.4,"e100":1186.8},
{"i":195,"e20":1181.6,"e50":1182.2,"e100":1186.5},
{"i":198,"e20":1182.4,"e50":1181.9,"e100":1186.0},
{"i":202,"e20":1183.0,"e50":1181.9,"e100":1185.7},
{"i":205,"e20":1181.9,"e50":1181.6,"e100":1185.1},
{"i":208,"e20":1181.1,"e50":1181.4,"e100":1184.9},
{"i":212,"e20":1180.6,"e50":1181.1,"e100":1184.9},
{"i":214,"e20":1181.9,"e50":1181.6,"e100":1184.9},
{"i":217,"e20":1185.7,"e50":1183.0,"e100":1185.1},
{"i":220,"e20":1190.6,"e50":1184.3,"e100":1185.7},
{"i":224,"e20":1193.2,"e50":1186.2,"e100":1186.5},
{"i":227,"e20":1194.3,"e50":1187.3,"e100":1187.3},
{"i":230,"e20":1194.9,"e50":1188.4,"e100":1188.1},
{"i":232,"e20":1193.8,"e50":1188.7,"e100":1188.4},
{"i":235,"e20":1192.2,"e50":1188.7,"e100":1188.4},
{"i":237,"e20":1191.4,"e50":1188.7,"e100":1188.4}
],
"lv":[{"v":1221.1,"t":"1221.10"},{"v":1180.8,"t":"1180.80"}]
},
"layer":[
{"data":{"name":"lv"},"mark":{"type":"rule","color":"#b4b4b4","strokeWidth":1.5},
 "encoding":{"y":{"field":"v","type":"quantitative","scale":{"domain":[1162.17,1232.98],"nice":false,"zero":false},
  "axis":{"orient":"right","values":[1170,1180,1190,1200,1210,1220,1230],"format":".2f","grid":true,"gridColor":"#ebebeb","ticks":false,"domain":false,"labelFontSize":4.5,"labelColor":"#555","labelPadding":3,"title":null}}}},
{"data":{"name":"lv"},"mark":{"type":"text","fontSize":3.6,"color":"#777","align":"left","baseline":"alphabetic","dy":-2},
 "encoding":{"x":{"datum":0.5,"type":"quantitative","scale":{"domain":[-0.5,237.5],"nice":false,"zero":false}},"y":{"field":"v","type":"quantitative"},"text":{"field":"t"}}},
{"data":{"name":"e"},"mark":{"type":"line","color":"#c9a98a","strokeWidth":0.9,"interpolate":"monotone"},
 "encoding":{"x":{"field":"i","type":"quantitative","scale":{"domain":[-0.5,237.5],"nice":false,"zero":false},
  "axis":{"values":[24.5,54.5,84.5,114.5,144.5,174.5,204.5],"labelExpr":"['05 May','12 May','19 May','26 May','02 Jun','09 Jun','16 Jun'][round((datum.value-24.5)/30)]","grid":true,"gridColor":"#ebebeb","ticks":false,"domain":false,"labelFontSize":4,"labelColor":"#555","labelPadding":1,"title":null}},
  "y":{"field":"e100","type":"quantitative"}}},
{"data":{"name":"e"},"mark":{"type":"line","color":"#5fbfcf","strokeWidth":0.9,"interpolate":"monotone"},
 "encoding":{"x":{"field":"i","type":"quantitative"},"y":{"field":"e50","type":"quantitative"}}},
{"data":{"name":"e"},"mark":{"type":"line","color":"#e072b8","strokeWidth":0.9,"interpolate":"monotone"},
 "encoding":{"x":{"field":"i","type":"quantitative"},"y":{"field":"e20","type":"quantitative"}}},
{"data":{"name":"k"},"mark":{"type":"rule","color":"#a8a8a8","strokeWidth":1},
 "encoding":{"x":{"field":"i","type":"quantitative"},"y":{"field":"l","type":"quantitative"},"y2":{"field":"h"}}},
{"data":{"name":"k"},"mark":{"type":"bar","width":1.8},
 "encoding":{"x":{"field":"i","type":"quantitative"},"y":{"field":"o","type":"quantitative"},"y2":{"field":"c"},
  "color":{"condition":{"test":"datum.c > datum.o","value":"#2b8a2b"},"value":"#a83c3c"}}},
{"data":{"name":"s"},"mark":{"type":"square","size":2.6,"filled":true,"opacity":1},
 "encoding":{"x":{"field":"i","type":"quantitative"},"y":{"field":"v","type":"quantitative"},
  "color":{"condition":{"test":"datum.s == 'a'","value":"#ff2a2a"},"value":"#8edc10"}}},
{"data":{"values":[{}]},"mark":{"type":"rect","fill":"white","fillOpacity":0.85,"stroke":"#e2e2e2","strokeWidth":0.6},
 "encoding":{"x":{"datum":-0.3,"type":"quantitative"},"x2":{"datum":17.5},"y":{"datum":1232.4,"type":"quantitative"},"y2":{"datum":1230.6}}},
{"data":{"values":[{}]},"mark":{"type":"rect","fill":"white","fillOpacity":0.85,"stroke":"#e2e2e2","strokeWidth":0.6},
 "encoding":{"x":{"datum":20.5,"type":"quantitative"},"x2":{"datum":33.5},"y":{"datum":1232.4,"type":"quantitative"},"y2":{"datum":1230.6}}},
{"data":{"values":[{}]},"mark":{"type":"text","fontSize":5.6,"fontWeight":"bold","color":"#222","align":"left","baseline":"alphabetic"},
 "encoding":{"x":{"datum":0.3,"type":"quantitative"},"y":{"datum":1233.1,"type":"quantitative"},"text":{"value":"Spot Gold"}}},
{"data":{"values":[{}]},"mark":{"type":"text","fontSize":3.2,"color":"#444","align":"left","baseline":"alphabetic"},
 "encoding":{"x":{"datum":15,"type":"quantitative"},"y":{"datum":1233.1,"type":"quantitative"},"text":{"value":"05:38 23/06/15"}}},
{"data":{"values":[{}]},"mark":{"type":"text","fontSize":3.8,"color":"#444","align":"left","baseline":"alphabetic"},
 "encoding":{"x":{"datum":26,"type":"quantitative"},"y":{"datum":1233.1,"type":"quantitative"},"text":{"value":"H: 1188.80  L: 1184.21"}}},
{"data":{"values":[{}]},"mark":{"type":"text","fontSize":3.8,"color":"#e03030","align":"left","baseline":"alphabetic"},
 "encoding":{"x":{"datum":48,"type":"quantitative"},"y":{"datum":1233.1,"type":"quantitative"},"text":{"value":"-0.04  0%"}}},
{"data":{"values":[{}]},"mark":{"type":"text","fontSize":3.4,"color":"#555","align":"left","baseline":"alphabetic"},
 "encoding":{"x":{"datum":0.6,"type":"quantitative"},"y":{"datum":1231.0,"type":"quantitative"},"text":{"value":"SAR  0.02  0.02  0.2"}}},
{"data":{"values":[{}]},"mark":{"type":"text","fontSize":3.4,"color":"#555","align":"left","baseline":"alphabetic"},
 "encoding":{"x":{"datum":21.5,"type":"quantitative"},"y":{"datum":1231.0,"type":"quantitative"},"text":{"value":"EMA"}}},
{"data":{"values":[{}]},"mark":{"type":"text","fontSize":3.4,"color":"#e072b8","align":"left","baseline":"alphabetic"},
 "encoding":{"x":{"datum":26.0,"type":"quantitative"},"y":{"datum":1231.0,"type":"quantitative"},"text":{"value":"20"}}},
{"data":{"values":[{}]},"mark":{"type":"text","fontSize":3.4,"color":"#5fbfcf","align":"left","baseline":"alphabetic"},
 "encoding":{"x":{"datum":28.4,"type":"quantitative"},"y":{"datum":1231.0,"type":"quantitative"},"text":{"value":"50"}}},
{"data":{"values":[{}]},"mark":{"type":"text","fontSize":3.4,"color":"#c9a98a","align":"left","baseline":"alphabetic"},
 "encoding":{"x":{"datum":30.8,"type":"quantitative"},"y":{"datum":1231.0,"type":"quantitative"},"text":{"value":"100"}}},
{"data":{"values":[{}]},"mark":{"type":"text","fontSize":3.4,"color":"#666","align":"left","baseline":"alphabetic"},
 "encoding":{"x":{"datum":0.5,"type":"quantitative"},"y":{"datum":1162.9,"type":"quantitative"},"text":{"value":"Data is Indicative"}}},
{"data":{"values":[{}]},"mark":{"type":"text","fontSize":3.4,"fontWeight":"bold","color":"#222","align":"left","baseline":"alphabetic"},
 "encoding":{"x":{"datum":0.5,"type":"quantitative"},"y":{"datum":1158.5,"type":"quantitative"},"text":{"value":"Chart Period:"}}},
{"data":{"values":[{}]},"mark":{"type":"text","fontSize":3.4,"color":"#333","align":"left","baseline":"alphabetic"},
 "encoding":{"x":{"datum":12.5,"type":"quantitative"},"y":{"datum":1158.5,"type":"quantitative"},"text":{"value":"20:00 28/04/15 - 12:00 23/06/15"}}},
{"data":{"values":[{}]},"mark":{"type":"text","fontSize":3.4,"fontWeight":"bold","color":"#222","align":"left","baseline":"alphabetic"},
 "encoding":{"x":{"datum":40,"type":"quantitative"},"y":{"datum":1158.5,"type":"quantitative"},"text":{"value":"Resolution:"}}},
{"data":{"values":[{}]},"mark":{"type":"text","fontSize":3.4,"color":"#333","align":"left","baseline":"alphabetic"},
 "encoding":{"x":{"datum":50.5,"type":"quantitative"},"y":{"datum":1158.5,"type":"quantitative"},"text":{"value":"4 hrs"}}},
{"data":{"values":[{}]},"mark":{"type":"rect","fill":"white","stroke":"#333","strokeWidth":0.6},
 "encoding":{"x":{"datum":238,"type":"quantitative"},"x2":{"datum":247.5},"y":{"datum":1186.5,"type":"quantitative"},"y2":{"datum":1184.9}}},
{"data":{"values":[{}]},"mark":{"type":"text","fontSize":4.5,"color":"#222","align":"left","baseline":"middle"},
 "encoding":{"x":{"datum":239,"type":"quantitative"},"y":{"datum":1185.7,"type":"quantitative"},"text":{"value":"1185.71"}}}
]
}
